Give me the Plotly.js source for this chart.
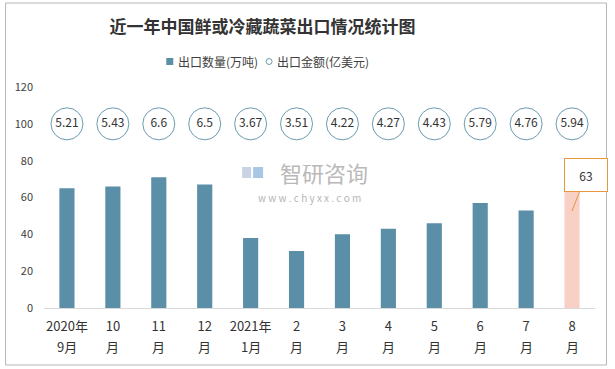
<!DOCTYPE html>
<html>
<head>
<meta charset="utf-8">
<script src="https://cdn.plot.ly/plotly-3.0.1.min.js"></script>
<style>html,body{margin:0;padding:0;background:#fff;}#chart{width:615px;height:369px;}</style>
</head>
<body>
<div id="chart"></div>
<script>
// ---- data ----
const labelTop    = ["2020年", "10", "11", "12", "2021年", "2", "3", "4", "5", "6", "7", "8"];
const labelBottom = ["9月", "月", "月", "月", "1月", "月", "月", "月", "月", "月", "月", "月"];
const categories = labelTop.map((t, i) => t + " " + labelBottom[i]);
const volume = [65, 66, 71, 67, 38, 31, 40, 43, 46, 57, 53, 63];        // 出口数量(万吨)
const amount = [5.21, 5.43, 6.6, 6.5, 3.67, 3.51, 4.22, 4.27, 4.43, 5.79, 4.76, 5.94]; // 出口金额(亿美元)
const yTicks = [0, 20, 40, 60, 80, 100, 120];
const seriesNames = ["出口数量(万吨)", "出口金额(亿美元)"];

// ---- styling ----
const BLUE = "#5b8fa7";
const PINK = "#f8d0c6";
const CIRCLE_LINE = "#6b9bb1";
const ORANGE = "#e8963f";
const HIGHLIGHT = categories.length - 1;
const CIRCLE_ROW = 100;
const FONT = "Noto Sans CJK SC, Microsoft YaHei, sans-serif";

const px2x = px => (px - 43.5) / 552;
const px2y = py => (308 - py) / 221;

const traces = [
  {
    type: "bar", x: categories, y: volume, name: seriesNames[0], width: 0.33,
    marker: {color: volume.map((v, i) => i === HIGHLIGHT ? PINK : BLUE)},
    showlegend: false, hoverinfo: "x+y"
  },
  {
    type: "scatter", mode: "markers+text", x: categories, y: amount.map(() => CIRCLE_ROW),
    text: amount.map(String), textposition: "middle center",
    textfont: {family: FONT, size: 12, color: "#333"},
    marker: {symbol: "circle", size: 32, color: "#fff", line: {color: CIRCLE_LINE, width: 1}},
    name: seriesNames[1], showlegend: false, cliponaxis: false
  }
];

const bottomLabels = categories.map((c, i) => ({
  x: c, xref: "x", yref: "paper", y: px2y(346), text: labelBottom[i], showarrow: false,
  xanchor: "center", yanchor: "middle", font: {family: FONT, size: 13, color: "#333"}
}));

const layout = {
  width: 615, height: 369,
  margin: {l: 43.5, r: 19.5, t: 87, b: 61},
  paper_bgcolor: "#fff", plot_bgcolor: "#fff",
  font: {family: FONT, color: "#404040"},
  title: {text: "<b>近一年中国鲜或冷藏蔬菜出口情况统计图</b>", xref: "container", yref: "container",
          x: 0.427, y: 1 - 27/369, xanchor: "center", yanchor: "middle",
          font: {family: FONT, size: 17, color: "#333"}},
  showlegend: false,
  xaxis: {type: "category", range: [-0.5, categories.length - 0.5], showgrid: false, showline: true,
          linecolor: "#d9d9d9", linewidth: 1, ticks: "", ticklabelstandoff: 6,
          tickvals: categories, ticktext: labelTop,
          tickfont: {family: FONT, size: 13, color: "#333"}, fixedrange: true},
  yaxis: {range: [0, 120], tickvals: yTicks, showgrid: false, zeroline: false, showline: false,
          ticks: "", ticklabelstandoff: 10, tickfont: {family: FONT, size: 11, color: "#404040"}, fixedrange: true},
  shapes: [
    {type: "rect", xref: "paper", yref: "paper", x0: px2x(5), x1: px2x(607), y0: px2y(365), y1: px2y(3),
     line: {color: "#b5b5b5", width: 1}, fillcolor: "rgba(0,0,0,0)", layer: "below"},
    // watermark logo blocks
    {type: "rect", xref: "paper", yref: "paper", x0: px2x(242), x1: px2x(251), y0: px2y(178), y1: px2y(167),
     line: {width: 0}, fillcolor: "#c9d3e3", layer: "below"},
    {type: "rect", xref: "paper", yref: "paper", x0: px2x(253), x1: px2x(263), y0: px2y(178), y1: px2y(167),
     line: {width: 0}, fillcolor: "#a9c6e6", layer: "below"},
    // legend symbols
    {type: "rect", xref: "paper", yref: "paper", x0: px2x(166), x1: px2x(173), y0: px2y(65), y1: px2y(58),
     line: {width: 0}, fillcolor: BLUE},
    {type: "circle", xref: "paper", yref: "paper", x0: px2x(266), x1: px2x(272), y0: px2y(64.5), y1: px2y(58.5),
     line: {color: CIRCLE_LINE, width: 1}, fillcolor: "#fff"}
  ],
  annotations: [
    {xref: "paper", yref: "paper", x: px2x(176), y: px2y(61.5), text: seriesNames[0], showarrow: false,
     font: {family: FONT, size: 12, color: "#404040"}, xanchor: "left", yanchor: "middle"},
    {xref: "paper", yref: "paper", x: px2x(275), y: px2y(61.5), text: seriesNames[1], showarrow: false,
     font: {family: FONT, size: 12, color: "#404040"}, xanchor: "left", yanchor: "middle"},
    {xref: "paper", yref: "paper", x: px2x(324), y: px2y(172), text: "智研咨询", showarrow: false,
     font: {family: FONT, size: 22, color: "#b9b9b9"}, xanchor: "center", yanchor: "middle"},
    {xref: "paper", yref: "paper", x: px2x(309), y: px2y(197), text: "w w w . c h y x x . c o m", showarrow: false,
     font: {family: FONT, size: 10, color: "#b5b5b5"}, xanchor: "center", yanchor: "middle"},
    {x: categories[HIGHLIGHT], y: volume[HIGHLIGHT], text: String(volume[HIGHLIGHT]), showarrow: true,
     arrowhead: 0, arrowcolor: ORANGE, arrowwidth: 1, ax: 14, ay: -36, yshift: -19,
     bordercolor: ORANGE, borderwidth: 1, borderpad: 1, bgcolor: "#fff", width: 40, height: 30,
     font: {family: FONT, size: 12, color: "#333"}},
    ...bottomLabels
  ]
};

Plotly.newPlot("chart", traces, layout, {displayModeBar: false, staticPlot: true});
</script>
</body>
</html>
